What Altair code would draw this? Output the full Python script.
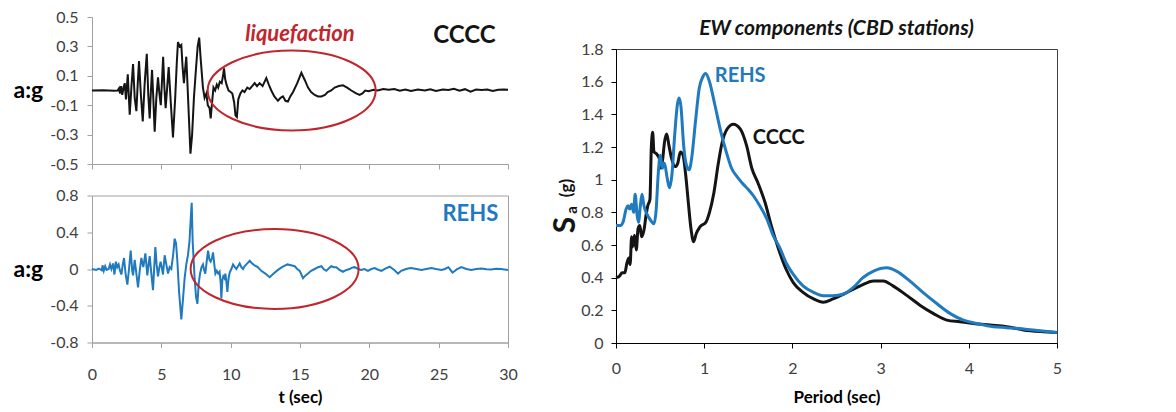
import altair as alt
import pandas as pd

FONT = "Lato"
RED = "#C0262D"
BLUE = "#1F7AC0"
BLACK = "#141414"
GRAY = "#A0A0A0"
LABEL = "#404040"

# ---------------- data ----------------
# CCCC EW acceleration history: (time s, acceleration g)
cccc_history = [
    (0.0, 0.0), (0.8, 0.002), (1.6, -0.002), (1.85, 0.0), (1.95, 0.015), (2.02, -0.02),
    (2.1, 0.03), (2.18, -0.03), (2.28, 0.02), (2.36, 0.05), (2.45, -0.06), (2.58, 0.11),
    (2.72, -0.165), (2.84, 0.02), (2.96, 0.18), (3.08, -0.05), (3.2, -0.14), (3.3, 0.05),
    (3.39, 0.20), (3.52, -0.02), (3.66, -0.21), (3.8, 0.05), (3.95, 0.25), (4.06, -0.03),
    (4.16, -0.19), (4.25, 0.0), (4.33, 0.14), (4.42, -0.05), (4.52, -0.28), (4.64, -0.05),
    (4.76, 0.09), (4.86, -0.02), (4.96, -0.1), (5.04, 0.05), (5.13, 0.23), (5.22, 0.02),
    (5.31, -0.12), (5.42, 0.02), (5.53, 0.16), (5.68, -0.08), (5.84, -0.32), (6.0, -0.05),
    (6.12, 0.2), (6.2, 0.33), (6.32, 0.3), (6.44, 0.31), (6.54, 0.15), (6.63, 0.05),
    (6.72, 0.15), (6.8, 0.23), (6.95, -0.1), (7.1, -0.43), (7.22, -0.3), (7.35, -0.05),
    (7.5, 0.15), (7.62, 0.3), (7.73, 0.36), (7.85, 0.2), (8.0, 0.02), (8.12, -0.05),
    (8.25, -0.02), (8.35, -0.1), (8.48, -0.12), (8.56, -0.19), (8.66, -0.08), (8.76, 0.02),
    (8.88, 0.0), (9.0, 0.04), (9.1, 0.02), (9.22, 0.06), (9.35, 0.05), (9.45, 0.1),
    (9.52, 0.15), (9.6, 0.08), (9.7, 0.04), (9.85, 0.0), (10.0, -0.01), (10.12, -0.02),
    (10.25, -0.08), (10.35, -0.17), (10.45, -0.18), (10.55, -0.06), (10.7, -0.02), (10.85, 0.0),
    (11.0, -0.01), (11.2, 0.02), (11.37, 0.01), (11.55, 0.03), (11.73, 0.05), (11.9, 0.03),
    (12.09, 0.05), (12.3, 0.03), (12.57, 0.085), (12.75, 0.04), (12.93, 0.0), (13.15, -0.04),
    (13.41, -0.07), (13.6, -0.05), (13.77, -0.04), (13.95, -0.07), (14.13, -0.075), (14.3, -0.04),
    (14.5, -0.01), (14.8, 0.05), (15.1, 0.12), (15.35, 0.07), (15.58, 0.02), (15.8, -0.01),
    (16.06, -0.03), (16.3, -0.04), (16.54, -0.04), (16.8, -0.03), (17.0, -0.01), (17.25, 0.0),
    (17.5, 0.02), (17.8, 0.03), (18.1, 0.035), (18.4, 0.02), (18.7, 0.0), (19.05, -0.02),
    (19.3, -0.03), (19.5, -0.02), (19.7, 0.0), (19.95, -0.005), (20.3, 0.005), (20.6, 0.0),
    (21.0, 0.01), (21.4, 0.005), (21.8, 0.01), (22.2, -0.002), (22.6, 0.006), (23.0, -0.004),
    (23.5, 0.006), (24.0, 0.0), (24.4, 0.008), (24.8, -0.003), (25.3, 0.006), (25.7, 0.004),
    (26.1, 0.012), (26.5, -0.002), (26.9, 0.009), (27.3, -0.008), (27.7, 0.006), (28.1, 0.003),
    (28.5, 0.006), (28.9, -0.004), (29.3, 0.005), (29.7, 0.006), (30.0, 0.005),
]

# REHS EW acceleration history: (time s, acceleration g)
rehs_history = [
    (0.0, 0.0), (0.3, -0.01), (0.5, 0.005), (0.7, -0.015), (0.76, 0.04), (0.85, -0.02),
    (0.95, 0.03), (1.05, -0.01), (1.2, 0.0), (1.3, 0.05), (1.4, 0.0), (1.52, 0.06),
    (1.62, -0.06), (1.72, 0.08), (1.82, 0.02), (1.92, 0.05), (2.02, -0.02), (2.12, -0.06),
    (2.22, 0.05), (2.31, 0.12), (2.42, -0.05), (2.55, -0.17), (2.67, 0.0), (2.79, 0.2),
    (2.9, -0.02), (2.96, -0.07), (3.08, 0.1), (3.2, -0.05), (3.32, -0.2), (3.44, -0.02),
    (3.56, 0.12), (3.7, 0.02), (3.85, 0.17), (3.99, -0.07), (4.08, 0.05), (4.16, 0.14),
    (4.28, -0.05), (4.4, -0.23), (4.48, 0.0), (4.57, 0.24), (4.66, 0.05), (4.76, -0.08),
    (4.86, 0.02), (4.95, 0.08), (5.05, 0.0), (5.12, -0.06), (5.24, 0.15), (5.36, 0.05),
    (5.48, -0.05), (5.6, 0.02), (5.72, 0.0), (5.85, 0.15), (5.96, 0.33), (6.06, 0.28),
    (6.15, 0.1), (6.28, -0.25), (6.44, -0.55), (6.55, -0.35), (6.68, -0.1), (6.8, 0.05),
    (6.92, 0.15), (7.03, 0.3), (7.12, 0.55), (7.19, 0.72), (7.26, 0.3), (7.4, -0.1),
    (7.5, -0.3), (7.6, -0.38), (7.7, -0.15), (7.79, -0.05), (7.9, 0.02), (8.0, 0.05),
    (8.1, -0.02), (8.17, -0.05), (8.27, 0.08), (8.37, 0.2), (8.47, 0.1), (8.56, 0.08),
    (8.65, 0.12), (8.73, 0.18), (8.82, 0.05), (8.9, -0.05), (9.0, -0.02), (9.1, -0.05),
    (9.2, -0.03), (9.28, -0.15), (9.33, -0.32), (9.4, -0.12), (9.47, -0.08), (9.55, -0.1),
    (9.62, -0.05), (9.7, -0.15), (9.76, -0.25), (9.85, -0.1), (9.93, -0.04), (10.05, 0.0),
    (10.17, 0.05), (10.3, 0.02), (10.41, 0.0), (10.53, 0.03), (10.65, 0.06), (10.77, 0.02),
    (10.89, 0.0), (11.0, 0.03), (11.13, 0.05), (11.25, 0.07), (11.37, 0.09), (11.55, 0.06),
    (11.73, 0.04), (11.95, 0.02), (12.21, -0.02), (12.5, -0.05), (12.81, -0.09), (13.1, -0.05),
    (13.41, -0.01), (13.7, 0.02), (14.09, 0.05), (14.35, 0.04), (14.62, 0.03), (14.8, 0.0),
    (14.98, -0.02), (15.22, -0.1), (15.4, -0.07), (15.58, -0.05), (15.8, -0.02), (16.06, 0.0),
    (16.3, 0.02), (16.54, 0.03), (16.7, 0.0), (16.9, -0.02), (17.1, 0.01), (17.26, 0.03),
    (17.45, 0.02), (17.62, 0.02), (17.85, -0.01), (18.1, -0.03), (18.35, -0.01), (18.58, 0.0),
    (18.75, 0.015), (18.94, 0.02), (19.2, 0.0), (19.42, -0.01), (19.65, 0.0), (19.9, -0.02),
    (20.15, 0.0), (20.38, 0.01), (20.6, -0.005), (20.87, -0.02), (21.15, 0.005), (21.47, 0.025),
    (21.8, -0.01), (22.07, -0.05), (22.3, -0.02), (22.55, -0.005), (22.8, 0.005), (23.0, 0.01),
    (23.4, 0.0), (23.75, -0.01), (24.1, 0.0), (24.47, 0.01), (24.8, 0.0), (25.2, -0.01),
    (25.45, 0.0), (25.7, 0.02), (25.85, -0.01), (26.0, -0.04), (26.3, -0.005), (26.63, 0.02),
    (27.0, 0.0), (27.35, -0.01), (27.7, 0.0), (28.08, 0.005), (28.45, -0.003), (28.8, -0.005),
    (29.15, 0.002), (29.5, 0.0), (30.0, -0.01),
]

# Response spectra: (period s, Sa g)
cccc_spectrum = [
    (0.0, 0.40), (0.04, 0.41), (0.07, 0.43), (0.1, 0.43), (0.124, 0.49), (0.146, 0.52),
    (0.16, 0.48), (0.177, 0.65), (0.19, 0.59), (0.21, 0.66), (0.23, 0.57), (0.25, 0.70),
    (0.27, 0.72), (0.29, 0.65), (0.32, 0.70), (0.34, 0.78), (0.36, 0.84), (0.385, 0.88),
    (0.40, 1.19), (0.416, 1.29), (0.43, 1.17), (0.456, 1.16), (0.49, 1.13), (0.51, 1.07),
    (0.53, 1.13), (0.55, 1.23), (0.575, 1.28), (0.60, 1.21), (0.63, 1.13), (0.67, 1.08),
    (0.70, 1.10), (0.73, 1.17), (0.76, 1.15), (0.79, 1.03), (0.82, 0.86), (0.85, 0.70),
    (0.88, 0.62), (0.91, 0.67), (0.95, 0.71), (1.02, 0.74), (1.06, 0.80), (1.11, 0.92),
    (1.16, 1.10), (1.20, 1.22), (1.26, 1.31), (1.33, 1.34), (1.41, 1.31), (1.48, 1.21),
    (1.54, 1.07), (1.61, 0.98), (1.69, 0.86), (1.76, 0.72), (1.84, 0.58), (1.93, 0.45),
    (2.01, 0.37), (2.12, 0.31), (2.24, 0.27), (2.35, 0.25), (2.46, 0.27), (2.62, 0.31),
    (2.77, 0.35), (2.92, 0.38), (3.03, 0.38), (3.14, 0.35), (3.30, 0.29), (3.45, 0.23),
    (3.60, 0.18), (3.75, 0.14), (3.90, 0.13), (4.05, 0.12), (4.24, 0.11), (4.43, 0.10),
    (4.62, 0.08), (4.81, 0.07), (5.0, 0.065),
]
rehs_spectrum = [
    (0.0, 0.72), (0.05, 0.72), (0.08, 0.74), (0.115, 0.82), (0.137, 0.84), (0.155, 0.82),
    (0.177, 0.85), (0.2, 0.80), (0.217, 0.91), (0.24, 0.78), (0.255, 0.74), (0.276, 0.84),
    (0.295, 0.91), (0.317, 0.84), (0.35, 0.79), (0.394, 0.75), (0.43, 0.73), (0.456, 0.82),
    (0.478, 1.03), (0.503, 1.15), (0.525, 1.07), (0.55, 1.10), (0.58, 1.01), (0.606, 0.95),
    (0.634, 1.03), (0.665, 1.27), (0.696, 1.46), (0.714, 1.50), (0.736, 1.45), (0.767, 1.21),
    (0.798, 1.09), (0.83, 1.06), (0.86, 1.14), (0.90, 1.35), (0.944, 1.56), (0.985, 1.63),
    (1.016, 1.65), (1.06, 1.60), (1.12, 1.46), (1.19, 1.29), (1.25, 1.17), (1.31, 1.07),
    (1.37, 1.02), (1.43, 0.98), (1.50, 0.94), (1.56, 0.90), (1.63, 0.84), (1.71, 0.76),
    (1.78, 0.66), (1.86, 0.58), (1.93, 0.49), (2.01, 0.42), (2.12, 0.35), (2.24, 0.31),
    (2.35, 0.29), (2.46, 0.29), (2.58, 0.30), (2.69, 0.34), (2.80, 0.40), (2.92, 0.44),
    (3.07, 0.46), (3.18, 0.44), (3.33, 0.38), (3.48, 0.31), (3.64, 0.24), (3.79, 0.18),
    (3.94, 0.14), (4.09, 0.12), (4.28, 0.10), (4.43, 0.094), (4.62, 0.086), (4.81, 0.075),
    (5.0, 0.065),
]

# tick values
t_ticks = [0, 5, 10, 15, 20, 25, 30]
top_a_ticks = [-0.5, -0.3, -0.1, 0.1, 0.3, 0.5]
bot_a_ticks = [-0.8, -0.4, 0, 0.4, 0.8]
period_ticks = [0, 1, 2, 3, 4, 5]
sa_ticks = [0, 0.2, 0.4, 0.6, 0.8, 1, 1.2, 1.4, 1.6, 1.8]

# annotations (data coordinates)
top_labels = [("CCCC", 29.1, 0.37), ("liquefaction", 15.0, 0.385)]
bot_labels = [("REHS", 29.3, 0.60)]
top_ring = [(14.4, 0.0)]
bot_ring = [(13.17, 0.0)]
spec_labels = [("REHS", 1.12, 1.635, BLUE), ("CCCC", 1.55, 1.255, BLACK)]
spec_title = "EW components (CBD stations)"

# ---------------- frames ----------------
df_ct = pd.DataFrame(cccc_history, columns=["t", "a"])
df_rt = pd.DataFrame(rehs_history, columns=["t", "a"])
df_cs = pd.DataFrame(cccc_spectrum, columns=["T", "Sa"])
df_rs = pd.DataFrame(rehs_spectrum, columns=["T", "Sa"])
df_tl = pd.DataFrame(top_labels, columns=["label", "t", "a"])
df_bl = pd.DataFrame(bot_labels, columns=["label", "t", "a"])
df_tr = pd.DataFrame(top_ring, columns=["t", "a"])
df_br = pd.DataFrame(bot_ring, columns=["t", "a"])
df_sl = pd.DataFrame(spec_labels, columns=["label", "T", "Sa", "col"])
one = pd.DataFrame({"k": [0]})

ELLIPSE = ("M-1,0 C-1,-0.2629 -0.5523,-0.476 0,-0.476 C0.5523,-0.476 1,-0.2629 1,0 "
           "C1,0.2629 0.5523,0.476 0,0.476 C-0.5523,0.476 -1,0.2629 -1,0 Z")
RING_SIZE = 168 * 168

lab = dict(labelFont=FONT, labelFontSize=16, labelColor=LABEL, tickCount=40,
           labelExpr="'' + datum.value", labelOverlap=False, labelBound=False,
           labelFlush=False)

t_scale = alt.Scale(domain=[0, 30], nice=False, zero=False)


def y_axis(vals):
    return alt.Axis(values=vals, grid=False, domainColor=GRAY, tickColor=GRAY, tickSize=5,
                    labelPadding=9, title="a:g", titleAngle=0, titleAlign="left",
                    titleBaseline="middle", titleX=-79, titleY=73.5, titleFont=FONT,
                    titleFontSize=23, titleFontWeight="bold", titleColor="black", **lab)


# ---------- top-left : CCCC ----------
top_x_axis = alt.Axis(values=t_ticks, labels=False, grid=False, domainColor=GRAY,
                      tickColor=GRAY, tickSize=5, title=None, tickCount=40)
top_line = alt.Chart(df_ct).mark_line(color=BLACK, strokeWidth=2).encode(
    x=alt.X("t:Q", scale=t_scale, axis=top_x_axis),
    y=alt.Y("a:Q", scale=alt.Scale(domain=[-0.5, 0.5], nice=False), axis=y_axis(top_a_ticks)),
)
top_ring_l = alt.Chart(df_tr).mark_point(shape=ELLIPSE, size=RING_SIZE, filled=False,
                                         color=RED, strokeWidth=2, opacity=1).encode(x="t:Q", y="a:Q")
top_txt_c = alt.Chart(df_tl).transform_filter("datum.label == 'CCCC'").mark_text(
    align="right", baseline="middle", font=FONT, fontSize=24, fontWeight="bold", color=BLACK
).encode(x="t:Q", y="a:Q", text="label:N")
top_txt_l = alt.Chart(df_tl).transform_filter("datum.label == 'liquefaction'").mark_text(
    align="center", baseline="middle", font=FONT, fontSize=22, fontWeight="bold",
    fontStyle="italic", color=RED
).encode(x="t:Q", y="a:Q", text="label:N")
top = alt.layer(top_line, top_ring_l, top_txt_c, top_txt_l).properties(
    width=416, height=147, view=alt.ViewBackground(stroke="transparent"))

# ---------- bottom-left : REHS ----------
bot_x_axis = alt.Axis(values=t_ticks, grid=False, domainColor=GRAY, tickColor=GRAY, tickSize=5,
                      labelPadding=19, title="t  (sec)", titleFont=FONT, titleFontSize=17,
                      titleFontWeight="bold", titleColor="black", titlePadding=7, **lab)
bot_line = alt.Chart(df_rt).mark_line(color=BLUE, strokeWidth=2).encode(
    x=alt.X("t:Q", scale=t_scale, axis=bot_x_axis),
    y=alt.Y("a:Q", scale=alt.Scale(domain=[-0.8, 0.8], nice=False), axis=y_axis(bot_a_ticks)),
)
bot_ring_l = alt.Chart(df_br).mark_point(shape=ELLIPSE, size=RING_SIZE, filled=False,
                                         color=RED, strokeWidth=2, opacity=1).encode(x="t:Q", y="a:Q")
bot_txt = alt.Chart(df_bl).mark_text(
    align="right", baseline="middle", font=FONT, fontSize=22, fontWeight="bold", color=BLUE
).encode(x="t:Q", y="a:Q", text="label:N")
bottom = alt.layer(bot_line, bot_ring_l, bot_txt).properties(
    width=416, height=147, view=alt.ViewBackground(stroke=GRAY, strokeWidth=1))

left = alt.vconcat(top, bottom, spacing=13.5)

# ---------- right : spectra ----------
sx_axis = alt.Axis(values=period_ticks, grid=False, domainColor="black", tickColor="black",
                   tickSize=5, labelPadding=12, title="Period  (sec)", titleFont=FONT,
                   titleFontSize=17, titleFontWeight="bold", titleColor="black", titlePadding=13,
                   **lab)
sy_axis = alt.Axis(values=sa_ticks, grid=False, domainColor="black", tickColor="black",
                   tickSize=5, labelPadding=8, title=None, **lab)
sx = alt.Scale(domain=[0, 5], nice=False)
sy = alt.Scale(domain=[0, 1.8], nice=False)

spec_c = alt.Chart(df_cs).mark_line(color=BLACK, strokeWidth=3, interpolate="monotone").encode(
    x=alt.X("T:Q", scale=sx, axis=sx_axis), y=alt.Y("Sa:Q", scale=sy, axis=sy_axis))
spec_r = alt.Chart(df_rs).mark_line(color=BLUE, strokeWidth=3, interpolate="monotone").encode(
    x="T:Q", y="Sa:Q")
spec_txt = alt.Chart(df_sl).mark_text(
    align="left", baseline="middle", font=FONT, fontSize=20, fontWeight="bold"
).encode(x="T:Q", y="Sa:Q", text="label:N",
         color=alt.Color("col:N", scale=None))
s_txt = alt.Chart(one).mark_text(text="S", angle=270, font=FONT, fontSize=30, fontWeight="bold",
                                 color=BLACK, align="center", baseline="middle").encode(
    x=alt.value(-50), y=alt.value(176))
a_txt = alt.Chart(one).mark_text(text="a", angle=270, font=FONT, fontSize=15, fontWeight="bold",
                                 color=BLACK, align="center", baseline="middle").encode(
    x=alt.value(-44), y=alt.value(161))
g_txt = alt.Chart(one).mark_text(text="(g)", angle=270, font=FONT, fontSize=17, fontWeight="bold",
                                 color=BLACK, align="center", baseline="middle").encode(
    x=alt.value(-49), y=alt.value(139))

spec_plot = alt.layer(spec_c, spec_r, spec_txt, s_txt, a_txt, g_txt).properties(
    width=441, height=294, view=alt.ViewBackground(stroke="#404040", strokeWidth=1))

title_cell = alt.Chart(one).mark_text(
    text=spec_title, font=FONT, fontSize=21, fontWeight="bold",
    fontStyle="italic", color=BLACK, align="center", baseline="middle"
).encode(x=alt.value(220.5), y=alt.value(11.5)).properties(
    width=441, height=20, view=alt.ViewBackground(stroke="transparent"))

right = alt.vconcat(title_cell, spec_plot, spacing=1)

chart = alt.hconcat(left, right, spacing=32).properties(
    padding={"left": 12, "top": 8, "right": 0, "bottom": 0},
    background="white",
)

chart.save("out.html", embed_options={"renderer": "svg", "actions": False})
